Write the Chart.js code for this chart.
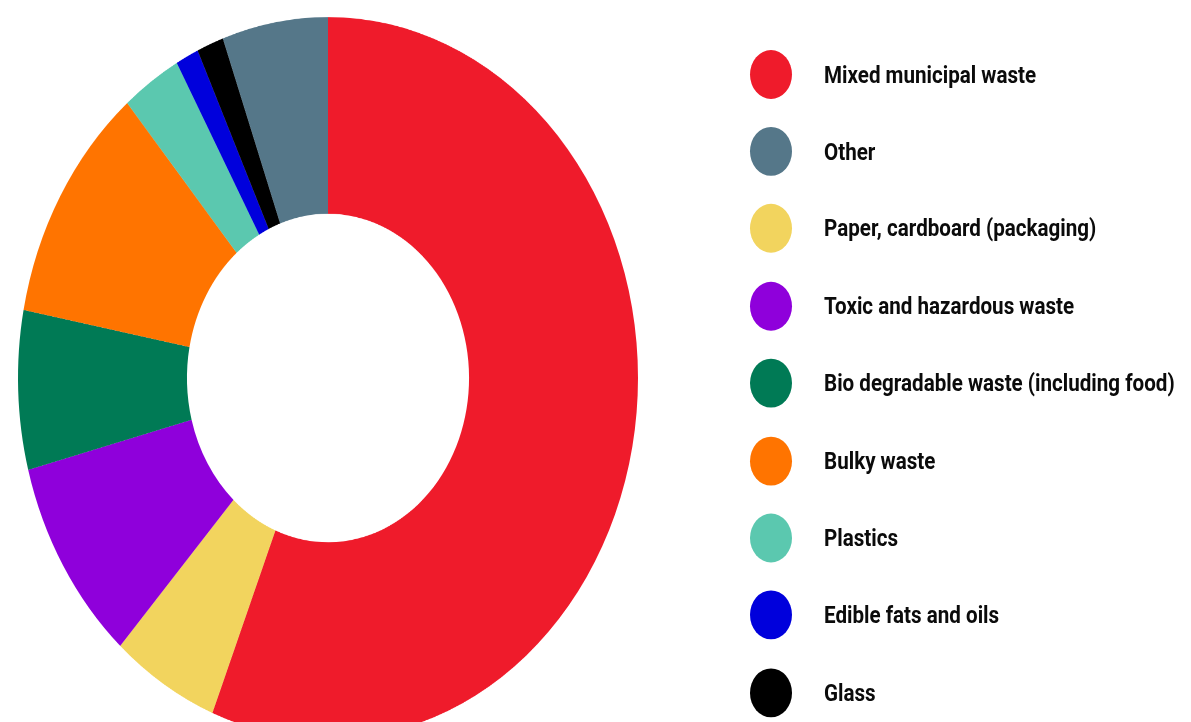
<!DOCTYPE html>
<html>
<head>
<meta charset="utf-8">
<script src="https://cdn.jsdelivr.net/npm/chart.js@4.4.1/dist/chart.umd.min.js"></script>
<style>
  html, body { margin: 0; padding: 0; background: #ffffff; overflow: hidden; width: 1191px; height: 722px; }
  #stage { position: absolute; left: 0; top: 0; width: 1191px; height: 650px; transform-origin: 0 0; transform: scaleY(1.1645); }
  #chart { position: absolute; left: 0; top: 0; }
  #legend { position: absolute; left: 750px; top: 0; margin: 0; padding: 0; list-style: none; font-family: Roboto, "Liberation Sans", sans-serif; font-weight: 700; font-size: 20.6px; color: #0b0b0b; }
  #legend li { position: absolute; left: 0; display: flex; align-items: center; height: 42px; white-space: nowrap; }
  #legend .dot { width: 42px; height: 42px; border-radius: 50%; flex: none; }
  #legend .txt { margin-left: 32px; }
</style>
</head>
<body>
<div id="stage">
  <canvas id="chart" width="660" height="650"></canvas>
  <ul id="legend"></ul>
</div>
<script>
// Slices in the order they are drawn clockwise from 12 o'clock
const categories = [
  "Mixed municipal waste",
  "Paper, cardboard (packaging)",
  "Toxic and hazardous waste",
  "Bio degradable waste (including food)",
  "Bulky waste",
  "Plastics",
  "Edible fats and oils",
  "Glass",
  "Other"
];
const shares = [56.0, 5.6, 9.2, 7.1, 10.75, 3.1, 1.2, 1.4, 5.5];
const sliceColors = ["#EF1B2B", "#F2D45E", "#8F00DB", "#007A55", "#FF7400", "#5BC8AF", "#0000DC", "#000000", "#557789"];
// Order of the legend entries
const legendOrder = [
  "Mixed municipal waste",
  "Other",
  "Paper, cardboard (packaging)",
  "Toxic and hazardous waste",
  "Bio degradable waste (including food)",
  "Bulky waste",
  "Plastics",
  "Edible fats and oils",
  "Glass"
];

const chart = new Chart(document.getElementById('chart'), {
  type: 'doughnut',
  data: {
    labels: categories,
    datasets: [{
      data: shares,
      backgroundColor: sliceColors,
      borderWidth: 0,
      hoverOffset: 0
    }]
  },
  options: {
    responsive: false,
    animation: false,
    devicePixelRatio: 2,
    cutout: '45.5%',
    rotation: 0,
    layout: { padding: { left: 18, top: 14.6, right: 22, bottom: 15.4 } },
    plugins: {
      legend: { display: false },
      tooltip: { enabled: false }
    }
  }
});

// HTML legend built from the same arrays
const ul = document.getElementById('legend');
legendOrder.forEach((name, i) => {
  const idx = categories.indexOf(name);
  const li = document.createElement('li');
  li.style.top = (63.7 - 21 + i * 66.37) + 'px';
  const dot = document.createElement('span');
  dot.className = 'dot';
  dot.style.background = sliceColors[idx];
  const txt = document.createElement('span');
  txt.className = 'txt';
  txt.textContent = name;
  li.appendChild(dot);
  li.appendChild(txt);
  ul.appendChild(li);
});
</script>
</body>
</html>
